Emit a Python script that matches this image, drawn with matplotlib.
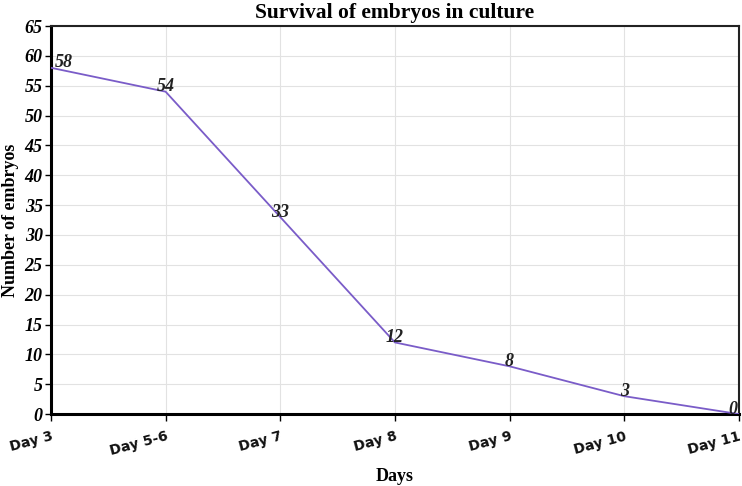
import matplotlib.pyplot as plt

days = ["Day 3", "Day 5-6", "Day 7", "Day 8", "Day 9", "Day 10", "Day 11"]
embryos = [58, 54, 33, 12, 8, 3, 0]
yticks = list(range(0, 70, 5))

fig = plt.figure(figsize=(7.42, 4.86), dpi=100)
ax = fig.add_axes([0.0687, 0.148, 0.927, 0.7985])

x = list(range(len(days)))
ax.plot(x, embryos, color="#7a5cc8", lw=1.3, zorder=3)

serif = "Liberation Serif"
for i, v in enumerate(embryos):
    ha = "center"
    dx = 0
    if i == 0:
        ha = "left"
        dx = 0.03
    elif i == len(embryos) - 1:
        ha = "right"
        dx = -0.01
    ax.text(x[i] + dx, v - 0.6, str(v), ha=ha, va="bottom", fontsize=13,
            fontfamily=serif, fontweight="bold", fontstyle="italic", color="#222222")

ax.set_xlim(0, len(days) - 1)
ax.set_ylim(0, 65)
ax.set_xticks(x)
ax.set_xticklabels(days, rotation=15, ha="right", rotation_mode="anchor",
                   fontsize=10, fontfamily="DejaVu Sans", fontweight="bold", color="#111111")
ax.set_yticks(yticks)
ax.set_yticklabels([str(t) for t in yticks], fontsize=13, fontfamily=serif,
                   fontweight="bold", fontstyle="italic")
ax.tick_params(axis="x", length=5, width=1, pad=6)
ax.tick_params(axis="y", length=4, width=1, pad=2)

ax.grid(True, color="#e2e2e2", lw=0.8)
ax.set_axisbelow(True)
for s in ["left", "bottom"]:
    ax.spines[s].set_linewidth(2.2)
for s in ["top", "right"]:
    ax.spines[s].set_linewidth(1.5)
    ax.spines[s].set_color("#222222")

ax.set_title("Survival of embryos in culture", fontsize=15.5, fontfamily=serif,
             fontweight="bold", pad=6)
ax.set_xlabel("Days", fontsize=13, fontfamily=serif, fontweight="bold", labelpad=7)
ax.set_ylabel("Number of embryos", fontsize=13, fontfamily=serif, fontweight="bold", labelpad=4)

fig.savefig("out.png", dpi=100)
